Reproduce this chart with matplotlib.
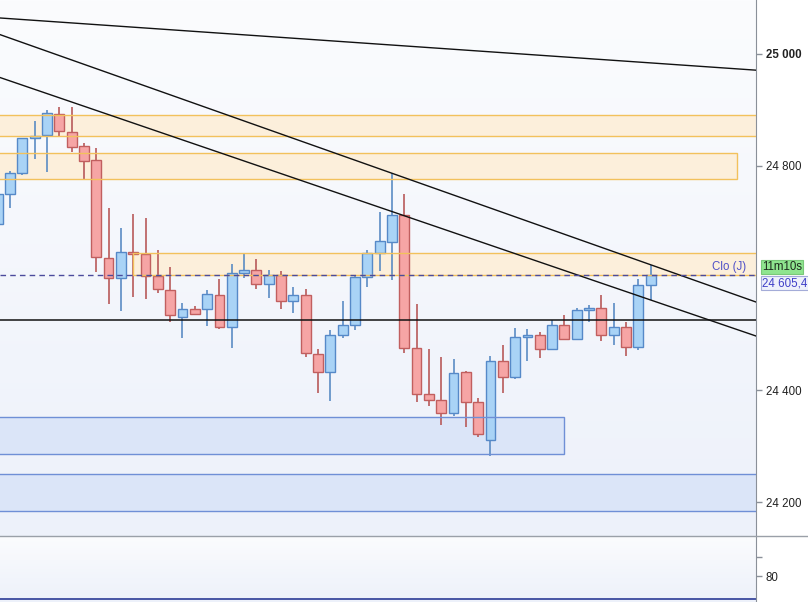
import numpy as np
import matplotlib
matplotlib.use("Agg")
import matplotlib.pyplot as plt
from matplotlib.patches import Rectangle
from matplotlib.lines import Line2D
from matplotlib.colors import LinearSegmentedColormap
import matplotlib.transforms as mtransforms

plt.rcParams['font.family'] = ['Liberation Sans', 'DejaVu Sans']

# bougies (OHLC), une par periode
opens = [24695.9, 24749.5, 24787.0, 24849.5, 24855.9, 24892.3, 24860.2, 24835.2, 24810.7, 24635.2,
         24599.5, 24645.9, 24642.9, 24603.6, 24578.0, 24529.8, 24544.1, 24544.1, 24569.1, 24513.0,
         24609.5, 24613.8, 24588.8, 24605.9, 24558.4, 24569.6, 24463.8, 24431.6, 24497.7, 24515.5,
         24601.2, 24644.1, 24663.7, 24712.0, 24474.5, 24392.3, 24381.6, 24358.4, 24431.6, 24378.0,
         24310.2, 24451.3, 24423.8, 24494.1, 24497.7, 24473.8, 24515.5, 24490.5, 24542.3, 24547.0,
         24497.7, 24512.0, 24477.3, 24586.9]
highs = [24752.0, 24791.6, 24850.5, 24880.4, 24900.0, 24905.9, 24905.9, 24841.6, 24831.6, 24725.5,
         24689.8, 24713.8, 24706.6, 24650.0, 24620.2, 24555.9, 24550.0, 24578.6, 24598.2, 24625.0,
         24645.2, 24633.9, 24614.3, 24612.0, 24583.9, 24579.8, 24472.7, 24507.1, 24558.9, 24605.4,
         24650.0, 24718.4, 24787.0, 24749.5, 24553.6, 24472.7, 24459.5, 24455.4, 24434.5, 24385.2,
         24460.7, 24479.8, 24510.2, 24508.9, 24503.6, 24525.0, 24533.9, 24545.9, 24551.8, 24569.6,
         24555.9, 24521.9, 24597.7, 24623.2]
lows = [24693.0, 24724.5, 24784.5, 24812.5, 24789.8, 24851.2, 24825.5, 24777.3, 24611.3, 24553.0,
        24541.1, 24566.6, 24562.5, 24573.8, 24520.9, 24493.4, 24535.2, 24514.8, 24509.5, 24475.5,
        24600.5, 24580.9, 24564.8, 24544.6, 24537.0, 24459.5, 24395.2, 24380.9, 24493.4, 24507.1,
        24584.5, 24613.0, 24596.4, 24466.6, 24378.6, 24371.9, 24337.5, 24353.6, 24334.5, 24315.5,
        24282.1, 24394.1, 24419.6, 24452.3, 24457.7, 24472.7, 24489.3, 24489.3, 24520.9, 24488.0,
        24480.4, 24461.3, 24471.4, 24560.7]
closes = [24749.5, 24787.0, 24849.5, 24853.6, 24894.1, 24862.0, 24834.5, 24809.5, 24637.0, 24599.5,
          24645.9, 24642.3, 24604.1, 24579.8, 24533.4, 24544.1, 24535.2, 24570.9, 24513.0, 24609.5,
          24613.8, 24588.8, 24604.8, 24558.4, 24569.1, 24465.5, 24431.6, 24498.2, 24515.5, 24601.8,
          24644.1, 24665.5, 24712.0, 24474.5, 24392.3, 24382.1, 24358.4, 24429.8, 24378.0, 24320.9,
          24451.3, 24422.7, 24494.1, 24497.7, 24473.8, 24515.5, 24490.5, 24542.3, 24547.0, 24497.7,
          24512.0, 24477.3, 24586.9, 24605.4]

# zones (debut, fin en bougies, bas, haut)
zone_start = [-1, -1, 11.0, -1, -1]
zone_end = [70, 60.0, 70, 46.0, 70]
zone_low = [24854.1, 24776.3, 24605.4, 24285.2, 24183.4]
zone_high = [24891.1, 24822.7, 24645.2, 24352.3, 24249.5]
zone_type = ['res', 'res', 'res', 'sup', 'sup']

# droites de tendance (x0, y0, x1, y1)
trend_x0 = [0.19, 0.19, 0.19]
trend_y0 = [25064.3, 25034.6, 24958.0]
trend_x1 = [61.55, 61.55, 61.55]
trend_y1 = [24971.1, 24557.1, 24496.4]

level_line = 24525.0
day_close = 24605.4
timer_text = "11m10s"
price_ticks = [24200, 24400, 24800, 25000]
osc_level = 68.7

FS = 8.3

x = np.arange(len(opens))
o = np.array(opens); h = np.array(highs); l = np.array(lows); c = np.array(closes)
up = c >= o

fig = plt.figure(figsize=(8.08, 6.02), dpi=100)
ax = fig.add_axes([0, 66/602, 756/808, 536/602])
ax2 = fig.add_axes([0, 0, 756/808, 66/602])

xlim = (0.19, 61.55)
ylim = (24139.3, 25096.4)

bg = LinearSegmentedColormap.from_list('bg', ['#fbfcfe', '#edf1fa'])
for a, yl in ((ax, ylim), (ax2, (67.0, 100.5))):
    a.imshow(np.linspace(0, 1, 256).reshape(-1, 1), extent=[xlim[0], xlim[1], yl[0], yl[1]],
             aspect='auto', cmap=bg, origin='upper', zorder=0)

for x0, x1, lo, hi, t in zip(zone_start, zone_end, zone_low, zone_high, zone_type):
    fc, ec = ('#fcefdb', '#f2c15c') if t == 'res' else ('#dbe5f8', '#6f8fd6')
    ax.add_patch(Rectangle((x0, lo), x1 - x0, hi - lo, facecolor=fc, edgecolor='none', zorder=1))
    ax.add_patch(Rectangle((x0, lo), x1 - x0, hi - lo, facecolor='none', edgecolor=ec, lw=1.0, zorder=4))

# meches
ax.vlines(x[up], l[up], h[up], color='#5b8cc4', lw=1.2, zorder=2)
ax.vlines(x[~up], l[~up], h[~up], color='#b85a5a', lw=1.2, zorder=2)
# corps
body_lo = np.minimum(o, c)
body_h = np.maximum(np.abs(c - o), 2.5)
ax.bar(x[up], body_h[up], bottom=body_lo[up], width=0.8, color='#a9d3f6', edgecolor='#5689c8', lw=1.0, zorder=3)
ax.bar(x[~up], body_h[~up], bottom=body_lo[~up], width=0.8, color='#f6a5a5', edgecolor='#c15f5f', lw=1.0, zorder=3)

for x0, y0, x1, y1 in zip(trend_x0, trend_y0, trend_x1, trend_y1):
    ax.plot([x0, x1], [y0, y1], color='#111111', lw=1.0, zorder=5)

ax.axhline(level_line, color='#111111', lw=1.1, zorder=5)
ax.axhline(day_close, color='#4b4b9c', lw=1.0, ls=(0, (4, 3)), zorder=5)
ax.text(60.75, day_close + 4, "Clo (J)", color='#5050c8', fontsize=FS, ha='right', va='bottom', zorder=6)

ax.set_xlim(*xlim)
ax.set_ylim(*ylim)
ax.set_xticks([])
ax.yaxis.tick_right()
ax.set_yticks(price_ticks)
ax.set_yticklabels([f"{v:,.0f}".replace(',', ' ') for v in price_ticks])
for lab in ax.get_yticklabels():
    if lab.get_text() == "25 000":
        lab.set_fontweight('bold')
ax.tick_params(axis='y', length=4, width=1, color='#8a9099', pad=3, labelsize=FS, labelcolor='#222222')
for s in ('top', 'left', 'bottom'):
    ax.spines[s].set_visible(False)
ax.spines['right'].set_color('#8a9099')

trans = mtransforms.blended_transform_factory(ax.transAxes, ax.transData)
ax.text(1.008, day_close + 3, timer_text, transform=trans, fontsize=FS, color='#1c2a1c', ha='left', va='bottom',
        bbox=dict(boxstyle='square,pad=0.1', facecolor='#8fe58f', edgecolor='#79c879', lw=0.8), clip_on=False, zorder=7)
ax.text(1.008, day_close - 4, f"{day_close:,.1f}".replace(',', ' ').replace('.', ','), transform=trans,
        fontsize=FS, color='#4040c8', ha='left', va='top',
        bbox=dict(boxstyle='square,pad=0.1', facecolor='#eef1fb', edgecolor='#a4acd8', lw=0.8), clip_on=False, zorder=7)

# panneau inferieur
ax2.axhline(osc_level, color='#2b3a96', lw=1.2)
ax2.set_xlim(*xlim)
ax2.set_ylim(67.0, 100.5)
ax2.set_xticks([])
ax2.yaxis.tick_right()
ax2.set_yticks([80, 90])
ax2.set_yticklabels(['80', ''])
ax2.tick_params(axis='y', length=4, width=1, color='#8a9099', pad=3, labelsize=FS, labelcolor='#222222')
for s in ('top', 'left', 'bottom'):
    ax2.spines[s].set_visible(False)
ax2.spines['right'].set_color('#8a9099')

fig.add_artist(Line2D([0, 1], [66/602, 66/602], transform=fig.transFigure, color='#9aa0a8', lw=1.0))

fig.savefig("out.png", dpi=100)
